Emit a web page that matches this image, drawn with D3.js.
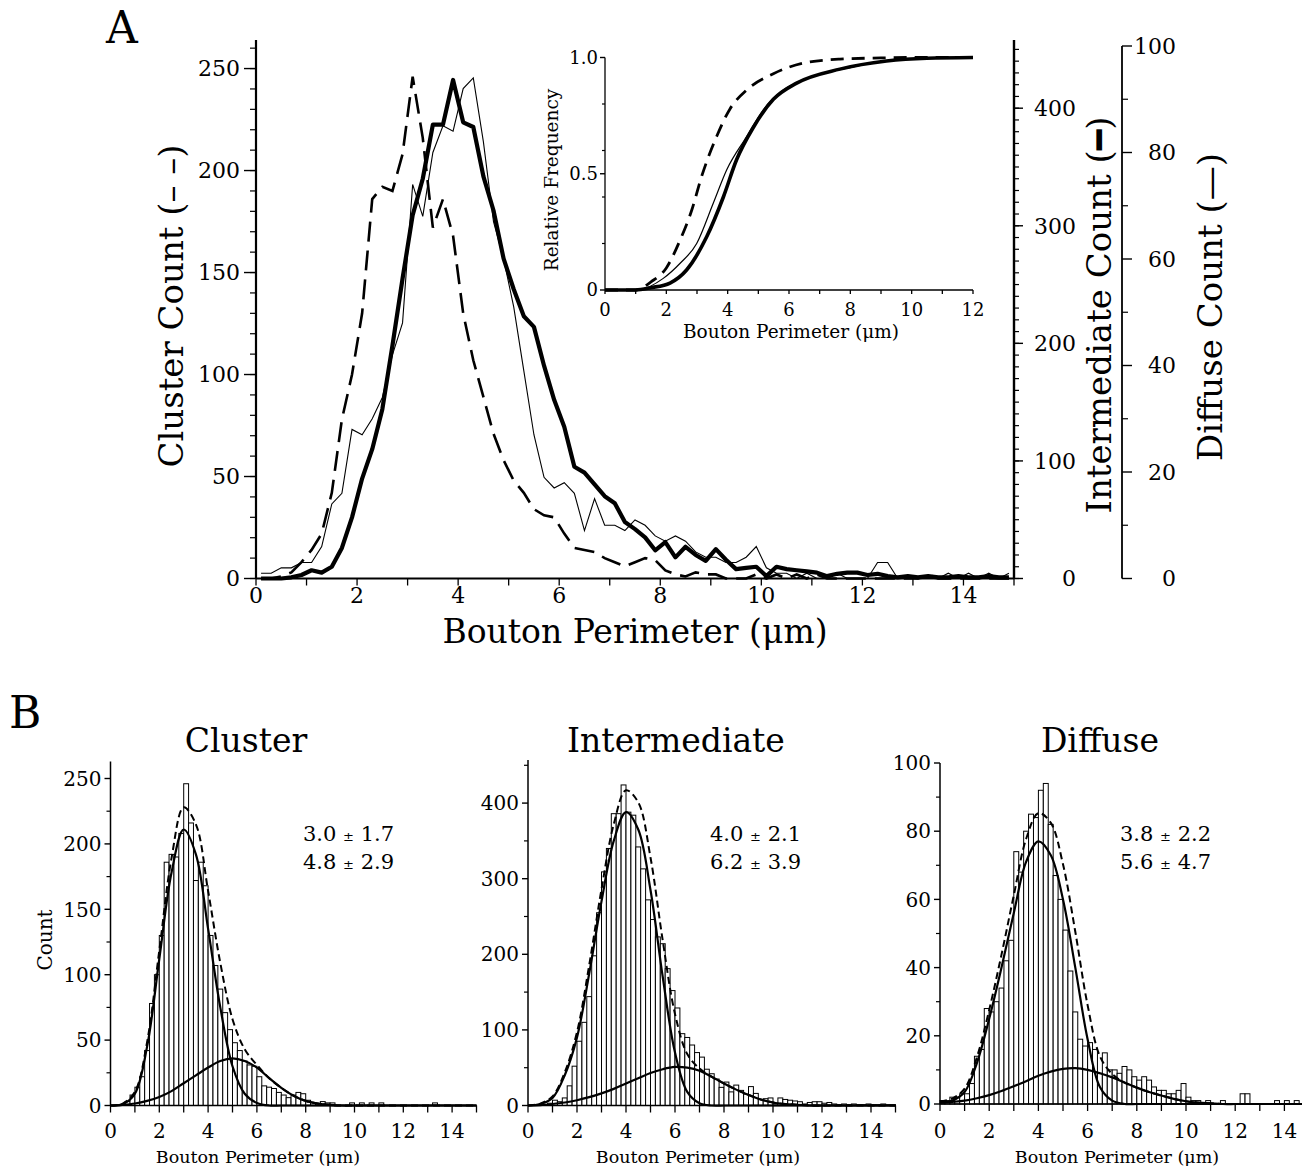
<!DOCTYPE html>
<html>
<head>
<meta charset="utf-8">
<script src="https://cdn.jsdelivr.net/npm/d3@7"></script>
<style>
  body { margin: 0; background: #fff; }
  svg { display: block; }
  text { font-family: "DejaVu Serif", "Liberation Serif", serif; fill: #000; }
</style>
</head>
<body>
<svg id="fig" width="1302" height="1166"></svg>
<script>
// ---- data ----

// 0.2 um histogram bins, shared by the panel A traces and the panel B bars
const binCenters = [0.1,0.3,0.5,0.7,0.9,1.1,1.3,1.5,1.7,1.9,
    2.1,2.3,2.5,2.7,2.9,3.1,3.3,3.5,3.7,3.9,
    4.1,4.3,4.5,4.7,4.9,5.1,5.3,5.5,5.7,5.9,
    6.1,6.3,6.5,6.7,6.9,7.1,7.3,7.5,7.7,7.9,
    8.1,8.3,8.5,8.7,8.9,9.1,9.3,9.5,9.7,9.9,
    10.1,10.3,10.5,10.7,10.9,11.1,11.3,11.5,11.7,11.9,
    12.1,12.3,12.5,12.7,12.9,13.1,13.3,13.5,13.7,13.9,
    14.1,14.3,14.5,14.7,14.9]
const binWidth = 0.2

const clusterCounts = [0,0,1,3,8,14,22,42,78,100,
    130,186,192,190,208,246,216,172,186,168,
    130,107,89,71,58,48,42,34,31,30,
    22,15,14,13,10,8,6,8,10,9,
    4,2,1,3,2,2,0,0,0,2,
    0,2,0,2,0,2,0,0,0,0,
    0,0,0,0,0,0,2,0,0,0,
    0,0,0,0,0]

const intermediateCounts = [0,0,0,1,3,7,5,10,26,52,
    85,110,144,198,255,309,340,386,386,424,
    388,384,342,313,272,246,223,214,181,152,
    129,95,90,80,70,64,48,42,35,24,
    31,18,27,20,15,25,16,8,9,10,
    2,10,8,7,6,5,2,4,5,5,
    3,4,2,1,2,1,2,1,1,2,
    1,1,2,1,1]

const diffuseCounts = [1,1,2,2,3,3,6,14,16,28,
    27,30,34,42,48,74,68,80,85,84,
    92,94,82,67,60,51,39,27,19,17,
    18,16,9,15,10,10,9,11,10,8,
    7,8,7,5,4,4,3,3,4,6,
    2,1,1,0,1,0,0,1,0,0,
    0,3,3,0,0,0,0,0,1,0,
    1,0,1,0,1]

// two-component fits (panel B), sampled every 0.5 um
const fitX = [0,0.5,1,1.5,2,2.5,3,3.5,4,4.5,5,5.5,6,6.5,7,7.5,
    8,8.5,9,9.5,10,10.5,11,11.5,12,12.5,13,13.5,14,14.5,15]
const clusterFitNarrow = [0,1,9,45,112,178,211,192,135,75,30,9,2,0,0,0,
    0,0,0,0,0,0,0,0,0,0,0,0,0,0,0]
const clusterFitWide = [0,0.5,1.5,3.5,6.5,11,17,23,29,34,36,34,29,21,13.5,7.5,
    3.5,1.5,0.5,0,0,0,0,0,0,0,0,0,0,0,0]
const intermediateFitNarrow = [0,2,10,40,90,175,270,350,388,365,285,170,70,18,3,0,
    0,0,0,0,0,0,0,0,0,0,0,0,0,0,0]
const intermediateFitWide = [0,0.5,2,4,7,11,16,22,29,36,43,48,51,50,46,38,
    29,21,14,8,4,2,1,0,0,0,0,0,0,0,0]
const diffuseFitNarrow = [0.5,1,3.5,12,25,40,56,71,77,73,60,40,19,5,1,0,
    0,0,0,0,0,0,0,0,0,0,0,0,0,0,0]
const diffuseFitWide = [0.3,0.6,1,1.7,2.6,3.8,5.2,6.7,8.3,9.5,10.3,10.5,10,9,7.8,6.3,
    4.8,3.5,2.5,1.5,0.8,0.4,0.2,0,0,0,0,0,0,0,0]

const clusterStats = [['3.0', '1.7'], ['4.8', '2.9']]
const intermediateStats = [['4.0', '2.1'], ['6.2', '3.9']]
const diffuseStats = [['3.8', '2.2'], ['5.6', '4.7']]

// inset: cumulative relative frequency
const cdfClusterX = [0,1,1.5,2,2.45,2.83,3.15,3.64,4.08,4.62,5.49,6.47,7.66,9,10,12]
const cdfClusterY = [0,0,0.035,0.095,0.215,0.344,0.488,0.66,0.78,0.86,0.93,0.976,0.993,0.998,1,1]
const cdfIntermediateX = [0,1,1.5,2.12,2.66,3.32,3.86,4.29,4.84,5.49,6.25,7.66,9.18,10.5,12]
const cdfIntermediateY = [0,0,0.01,0.03,0.086,0.23,0.40,0.56,0.70,0.82,0.89,0.95,0.985,0.997,1]
const cdfDiffuseX = [0,1.14,1.9,2.45,2.99,3.53,3.97,4.62,5.16,5.81,6.58,8.1,9.18,10.5,12]
const cdfDiffuseY = [0,0.003,0.05,0.115,0.2,0.373,0.517,0.66,0.775,0.86,0.91,0.96,0.987,0.997,1]

const insetYTicks = [0, 0.5, 1]
const insetYLabels = ['0', '0.5', '1.0']

// ---- helpers ----

const svg = d3.select('#fig')

function vAxis(g, scale, x, major, minor, o) {
    const dir = o.side === 'left' ? -1 : 1
    g.append('line')
        .attr('x1', x).attr('x2', x)
        .attr('y1', scale.range()[0]).attr('y2', scale.range()[1])
        .attr('stroke', '#000').attr('stroke-width', o.width)
    g.selectAll(null).data(minor).join('line')
        .attr('x1', x).attr('x2', x + dir * o.minorLen)
        .attr('y1', d => scale(d)).attr('y2', d => scale(d))
        .attr('stroke', '#000').attr('stroke-width', 1.2)
    g.selectAll(null).data(major).join('line')
        .attr('x1', x).attr('x2', x + dir * o.majorLen)
        .attr('y1', d => scale(d)).attr('y2', d => scale(d))
        .attr('stroke', '#000').attr('stroke-width', 1.4)
    g.selectAll(null).data(major).join('text')
        .attr('x', o.labelX)
        .attr('y', d => scale(d))
        .attr('dy', '0.36em')
        .attr('text-anchor', o.anchor)
        .attr('font-size', o.fontSize)
        .text((d, i) => o.labels ? o.labels[i] : d)
}

function hAxis(g, scale, y, ticks, labelled, o) {
    g.append('line')
        .attr('x1', scale.range()[0]).attr('x2', scale.range()[1])
        .attr('y1', y).attr('y2', y)
        .attr('stroke', '#000').attr('stroke-width', o.width)
    g.selectAll(null).data(ticks).join('line')
        .attr('x1', d => scale(d)).attr('x2', d => scale(d))
        .attr('y1', y).attr('y2', y + o.tickLen)
        .attr('stroke', '#000').attr('stroke-width', 1.3)
    g.selectAll(null).data(labelled).join('text')
        .attr('x', d => scale(d))
        .attr('y', o.labelY)
        .attr('text-anchor', 'middle')
        .attr('font-size', o.fontSize)
        .text(d => d)
}

function rotLabel(g, x, y, size, parts) {
    const t = g.append('text')
        .attr('transform', `translate(${x},${y}) rotate(-90)`)
        .attr('text-anchor', 'middle')
        .attr('font-size', size)
    parts.forEach(p => {
        const s = t.append('tspan').text(p.text)
        if (p.weight) s.attr('font-weight', p.weight)
        if (p.family) s.style('font-family', p.family)
    })
    return t
}

// ---- panel A ----

const A = svg.append('g')

A.append('text').attr('x', 106).attr('y', 43).attr('font-size', 44).text('A')

const xA = d3.scaleLinear().domain([0, 15]).range([256, 1014])
const yCluster = d3.scaleLinear().domain([0, 264]).range([578.5, 40])
const yInter = d3.scaleLinear().domain([0, 458]).range([578.5, 40])
const yDiffuse = d3.scaleLinear().domain([0, 100]).range([578.5, 46])

const traceA = (y) => d3.line().x((d, i) => xA(binCenters[i])).y(d => y(d))

A.append('path').attr('d', traceA(yDiffuse)(diffuseCounts))
    .attr('fill', 'none').attr('stroke', '#000').attr('stroke-width', 1.1)
A.append('path').attr('d', traceA(yCluster)(clusterCounts))
    .attr('fill', 'none').attr('stroke', '#000').attr('stroke-width', 2.6)
    .attr('stroke-dasharray', '20,9')
A.append('path').attr('d', traceA(yInter)(intermediateCounts))
    .attr('fill', 'none').attr('stroke', '#000').attr('stroke-width', 4.2)
    .attr('stroke-linejoin', 'round')

// axes
vAxis(A, yCluster, 256, d3.range(0, 251, 50), d3.range(0, 261, 10), {
    side: 'left', width: 2.2, majorLen: 12, minorLen: 6, labelX: 240, anchor: 'end', fontSize: 22
})
hAxis(A, xA, 578.5, d3.range(0, 16, 1), d3.range(0, 15, 2), {
    width: 2.2, tickLen: 7, labelY: 603, fontSize: 22
})
vAxis(A, yInter, 1014, d3.range(0, 401, 100), d3.range(0, 451, 10), {
    side: 'right', width: 2.4, majorLen: 9, minorLen: 5, labelX: 1076, anchor: 'end', fontSize: 22
})
vAxis(A, yDiffuse, 1122, d3.range(0, 101, 20), d3.range(10, 91, 20), {
    side: 'right', width: 1.8, majorLen: 10, minorLen: 6, labelX: 1176, anchor: 'end', fontSize: 22
})

A.append('text').attr('x', 635).attr('y', 643).attr('text-anchor', 'middle')
    .attr('font-size', 33).text('Bouton Perimeter (\u03bcm)')
rotLabel(A, 183, 306, 34, [{ text: 'Cluster Count (\u2013 \u2013)' }])
rotLabel(A, 1111, 315, 34, [{ text: 'Intermediate Count (' },
    { text: '\u2501', family: '"DejaVu Sans", sans-serif', weight: 'bold' }, { text: ')' }])
rotLabel(A, 1222, 307, 34, [{ text: 'Diffuse Count (\u2014)' }])

// inset: cumulative distributions
const xIn = d3.scaleLinear().domain([0, 12]).range([605, 973])
const yIn = d3.scaleLinear().domain([0, 1]).range([290, 57.5])
const cdfLine = d3.line().x(d => xIn(d[0])).y(d => yIn(d[1])).curve(d3.curveMonotoneX)

vAxis(A, yIn, 605, insetYTicks, [0.2, 0.4, 0.6, 0.8], {
    side: 'left', width: 1.3, majorLen: 5, minorLen: 3, labelX: 598, anchor: 'end',
    fontSize: 18, labels: insetYLabels
})
hAxis(A, xIn, 290, d3.range(0, 13, 1), d3.range(0, 13, 2), {
    width: 1.3, tickLen: 4, labelY: 316, fontSize: 18
})
A.append('text').attr('x', 791).attr('y', 338).attr('text-anchor', 'middle')
    .attr('font-size', 18.5).text('Bouton Perimeter (\u03bcm)')
rotLabel(A, 558, 180, 18.5, [{ text: 'Relative Frequency' }])

A.append('path').attr('d', cdfLine(d3.zip(cdfDiffuseX, cdfDiffuseY)))
    .attr('fill', 'none').attr('stroke', '#000').attr('stroke-width', 1.2)
A.append('path').attr('d', cdfLine(d3.zip(cdfIntermediateX, cdfIntermediateY)))
    .attr('fill', 'none').attr('stroke', '#000').attr('stroke-width', 3.6)
A.append('path').attr('d', cdfLine(d3.zip(cdfClusterX, cdfClusterY)))
    .attr('fill', 'none').attr('stroke', '#000').attr('stroke-width', 2.8)
    .attr('stroke-dasharray', '13,8')

// ---- panel B ----

const B = svg.append('g')
B.append('text').attr('x', 9).attr('y', 728).attr('font-size', 44).text('B')

const panels = [
    { title: 'Cluster', counts: clusterCounts, narrow: clusterFitNarrow, wide: clusterFitWide,
      stats: clusterStats, x0: 110.5, x1: 476.5, y0: 1105.5, yTop: 761.5, yMax: 263,
      major: d3.range(0, 251, 50), minor: d3.range(25, 251, 50),
      titleX: 246, labelX: 258, statX: 303 },
    { title: 'Intermediate', counts: intermediateCounts, narrow: intermediateFitNarrow, wide: intermediateFitWide,
      stats: intermediateStats, x0: 528, x1: 895.5, y0: 1105.5, yTop: 760, yMax: 457,
      major: d3.range(0, 401, 100), minor: d3.range(50, 451, 100),
      titleX: 676, labelX: 698, statX: 710 },
    { title: 'Diffuse', counts: diffuseCounts, narrow: diffuseFitNarrow, wide: diffuseFitWide,
      stats: diffuseStats, x0: 940, x1: 1309, y0: 1104, yTop: 763, yMax: 100,
      major: d3.range(0, 101, 20), minor: d3.range(10, 91, 20),
      titleX: 1100, labelX: 1117, statX: 1120 }
]

panels.forEach(p => {
    const g = B.append('g')
    const x = d3.scaleLinear().domain([0, 15]).range([p.x0, p.x1])
    const y = d3.scaleLinear().domain([0, p.yMax]).range([p.y0, p.yTop])

    // bars
    g.selectAll(null).data(p.counts.map((v, i) => [binCenters[i], v]).filter(d => d[1] > 0))
        .join('rect')
        .attr('x', d => x(d[0] - binWidth / 2))
        .attr('width', x(binWidth) - x(0))
        .attr('y', d => y(d[1]))
        .attr('height', d => p.y0 - y(d[1]))
        .attr('fill', '#fff').attr('stroke', '#000').attr('stroke-width', 1)

    // fits
    const fit = d3.line().x((d, i) => x(fitX[i])).y(d => y(d)).curve(d3.curveCatmullRom)
    const total = p.narrow.map((v, i) => v + p.wide[i])
    g.append('path').attr('d', fit(p.narrow))
        .attr('fill', 'none').attr('stroke', '#000').attr('stroke-width', 2.2)
    g.append('path').attr('d', fit(p.wide))
        .attr('fill', 'none').attr('stroke', '#000').attr('stroke-width', 2.2)
    g.append('path').attr('d', fit(total))
        .attr('fill', 'none').attr('stroke', '#000').attr('stroke-width', 2)
        .attr('stroke-dasharray', '7,4')

    vAxis(g, y, p.x0, p.major, p.minor, {
        side: 'left', width: 1.5, majorLen: 6, minorLen: 4, labelX: p.x0 - 9, anchor: 'end', fontSize: 20
    })
    hAxis(g, x, p.y0, d3.range(0, 16, 1), d3.range(0, 15, 2), {
        width: 1.5, tickLen: 7, labelY: 1138, fontSize: 20
    })

    g.append('text').attr('x', p.titleX).attr('y', 752).attr('text-anchor', 'middle')
        .attr('font-size', 33).text(p.title)
    g.append('text').attr('x', p.labelX).attr('y', 1163).attr('text-anchor', 'middle')
        .attr('font-size', 17.5).text('Bouton Perimeter (\u03bcm)')

    p.stats.forEach((s, k) => {
        const t = g.append('text').attr('x', p.statX).attr('y', 841 + k * 28).attr('font-size', 21)
        t.append('tspan').text(s[0] + ' ')
        t.append('tspan').attr('font-size', 13).text('\u00b1')
        t.append('tspan').text(' ' + s[1])
    })
})

rotLabel(B, 52, 940, 20, [{ text: 'Count' }])
</script>
</body>
</html>
